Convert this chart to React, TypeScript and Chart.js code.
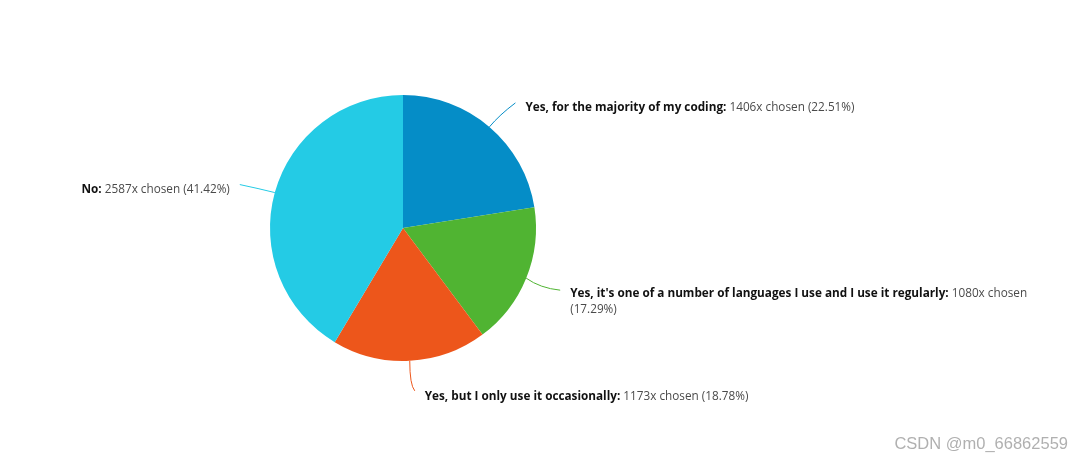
import React, { useEffect, useRef } from "react";
import { Chart, registerables } from "chart.js";

Chart.register(...registerables);

const categories = [
  "Yes, for the majority of my coding",
  "Yes, it's one of a number of languages I use and I use it regularly",
  "Yes, but I only use it occasionally",
  "No",
];
const counts = [1406, 1080, 1173, 2587];
const percents = ["22.51%", "17.29%", "18.78%", "41.42%"];
const colors = ["#058DC7", "#50B432", "#ED561B", "#24CBE5"];
const watermark = "CSDN @m0_66862559";

// connector layout per slice: control offset, end offset (relative to arc anchor), text side
const connectors = [
  { c: [10, -12], e: [26, -24], side: "right", ty: 5 },
  { c: [14, 10], e: [34, 12], side: "right", ty: 3 },
  { c: [0, 24], e: [5, 30], side: "right", ty: 6 },
  { c: [-16, -4], e: [-35, -8], side: "left", ty: 5 },
];

const FONT = "'Open Sans', 'Noto Sans', sans-serif";

const labelPlugin = {
  id: "pieLabels",
  afterDraw(chart: any) {
    const ctx = chart.ctx as CanvasRenderingContext2D;
    const meta = chart.getDatasetMeta(0);
    meta.data.forEach((arc: any, i: number) => {
      const { x, y, outerRadius, startAngle, endAngle } = arc.getProps(
        ["x", "y", "outerRadius", "startAngle", "endAngle"],
        true
      );
      const mid = (startAngle + endAngle) / 2;
      const ax = x + Math.cos(mid) * outerRadius;
      const ay = y + Math.sin(mid) * outerRadius;
      const cn = connectors[i];
      const ex = ax + cn.e[0];
      const ey = ay + cn.e[1];
      ctx.save();
      ctx.strokeStyle = colors[i];
      ctx.lineWidth = 1;
      ctx.beginPath();
      ctx.moveTo(ax, ay);
      ctx.quadraticCurveTo(ax + cn.c[0], ay + cn.c[1], ex, ey);
      ctx.stroke();

      const bold = categories[i] + ": ";
      const rest = counts[i] + "x chosen (" + percents[i] + ")";
      const boldFont = "bold 11.75px " + FONT;
      const normFont = "11.75px " + FONT;
      ctx.textBaseline = "middle";
      ctx.textAlign = "left";
      ctx.font = boldFont;
      const bw = ctx.measureText(bold).width;
      ctx.font = normFont;
      const rw = ctx.measureText(rest).width;
      const ty = ey + cn.ty;
      let tx: number;
      if (cn.side === "right") tx = ex + 10;
      else tx = ex - 10 - bw - rw;
      const maxRight = chart.width - 30;
      ctx.font = boldFont;
      ctx.fillStyle = "#111111";
      ctx.fillText(bold, tx, ty);
      ctx.font = normFont;
      ctx.fillStyle = "#4a4a4a";
      if (tx + bw + rw <= maxRight) {
        ctx.fillText(rest, tx + bw, ty);
      } else {
        const words = rest.split(" ");
        let line = "";
        let cx = tx + bw;
        let cy = ty;
        for (const w of words) {
          const test = line ? line + " " + w : w;
          if (cx + ctx.measureText(test).width > maxRight && line) {
            ctx.fillText(line, cx, cy);
            line = w;
            cx = tx;
            cy += 16;
          } else {
            line = test;
          }
        }
        ctx.fillText(line, cx, cy);
      }
      ctx.restore();
    });
    ctx.save();
    ctx.font = "16.5px 'Liberation Sans', Arial, sans-serif";
    ctx.fillStyle = "#b0b0b0";
    ctx.textAlign = "right";
    ctx.textBaseline = "middle";
    ctx.fillText(watermark, chart.width - 12, 444);
    ctx.restore();
  },
};

export default function App() {
  const ref = useRef<HTMLCanvasElement>(null);
  useEffect(() => {
    if (!ref.current) return;
    const chart = new Chart(ref.current, {
      type: "pie",
      data: {
        labels: categories,
        datasets: [
          {
            data: counts,
            backgroundColor: colors,
            borderWidth: 0,
            hoverOffset: 0,
            offset: 0,
          },
        ],
      },
      options: {
        responsive: false,
        animation: false,
        layout: { padding: { left: 270, right: 544, top: 95, bottom: 99 } },
        plugins: {
          legend: { display: false },
          tooltip: { enabled: false },
        },
      },
      plugins: [labelPlugin],
    });
    return () => chart.destroy();
  }, []);
  return (
    <div style={{ position: "fixed", left: 0, top: 0, width: 1080, height: 460, background: "#fff" }}>
      <canvas ref={ref} width={1080} height={460} style={{ width: 1080, height: 460 }} />
    </div>
  );
}
